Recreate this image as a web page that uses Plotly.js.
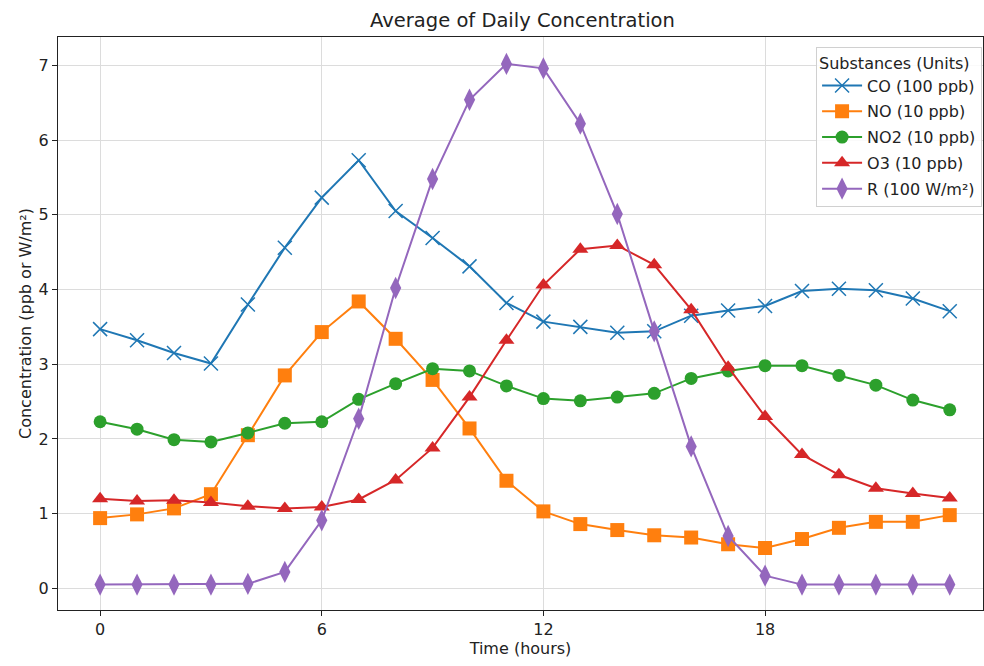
<!DOCTYPE html>
<html>
<head>
<meta charset="utf-8">
<script src="https://cdn.plot.ly/plotly-3.0.1.min.js"></script>
<style>html,body{margin:0;padding:0;background:#fff;}#chart{width:984px;height:666px;}</style>
</head>
<body>
<div id="chart"></div>
<script>
const hours = [0,1,2,3,4,5,6,7,8,9,10,11,12,13,14,15,16,17,18,19,20,21,22,23];
const coValues  = [3.47,3.32,3.15,3.01,3.80,4.56,5.23,5.73,5.05,4.69,4.31,3.82,3.57,3.50,3.42,3.44,3.65,3.72,3.78,3.98,4.01,3.99,3.88,3.71];
const noValues  = [0.94,0.99,1.07,1.26,2.05,2.85,3.43,3.84,3.34,2.79,2.14,1.44,1.03,0.86,0.78,0.71,0.68,0.59,0.54,0.66,0.81,0.89,0.89,0.98];
const no2Values = [2.23,2.13,1.99,1.96,2.08,2.21,2.23,2.53,2.74,2.94,2.91,2.71,2.54,2.51,2.56,2.61,2.81,2.91,2.98,2.98,2.85,2.72,2.52,2.39];
const o3Values  = [1.20,1.17,1.18,1.15,1.10,1.07,1.09,1.19,1.45,1.88,2.56,3.32,4.06,4.54,4.59,4.33,3.73,2.96,2.30,1.79,1.52,1.34,1.27,1.21];
const rValues   = [0.05,0.05,0.05,0.05,0.06,0.22,0.91,2.27,4.02,5.48,6.54,7.02,6.96,6.22,5.01,3.44,1.90,0.70,0.17,0.05,0.05,0.05,0.05,0.05];
const seriesNames = ["CO (100 ppb)","NO (10 ppb)","NO2 (10 ppb)","O3 (10 ppb)","R (100 W/m²)"];
const xTicks = [0,6,12,18];

const colors = ["#1f77b4","#ff7f0e","#2ca02c","#d62728","#9467bd"];
const symbols = ["x-thin-open","square","circle","triangle-up","diamond-tall"];
const sizes = [14,14,13,14,16];
const allValues = [coValues,noValues,no2Values,o3Values,rValues];

const traces = allValues.map((vals,i)=>({
  x: hours, y: vals, name: seriesNames[i], type:'scatter', mode:'lines+markers',
  legendgroup:'g'+i,
  line:{color:colors[i], width:2},
  marker:{symbol:symbols[i], size:sizes[i], color:colors[i], line:{color:colors[i], width: i===0?1.5:0}}
}));

const layout = {
  width:984, height:666,
  margin:{l:58, r:1, t:37, b:56},
  paper_bgcolor:'#fff', plot_bgcolor:'#fff',
  font:{family:'DejaVu Sans', size:16, color:'#222'},
  title:{text:'Average of Daily Concentration', x:0.531, xanchor:'center', y:0.969, yanchor:'middle', font:{size:19.5, color:'#222'}},
  xaxis:{range:[-1.14,23.9], tickvals:xTicks, ticks:'outside', ticklen:5, tickcolor:'#222',
    tickfont:{size:16},
    showgrid:true, gridcolor:'#dcdcdc', gridwidth:1, zeroline:false,
    showline:true, linecolor:'#222', linewidth:1, mirror:true,
    title:{text:'Time (hours)', font:{size:16}, standoff:4}},
  yaxis:{range:[-0.29,7.38], tickvals:[0,1,2,3,4,5,6,7], ticks:'outside', ticklen:5, tickcolor:'#222',
    tickfont:{size:16},
    showgrid:true, gridcolor:'#dcdcdc', gridwidth:1, zeroline:false,
    showline:true, linecolor:'#222', linewidth:1, mirror:true,
    title:{text:'Concentration (ppb or W/m²)', font:{size:16}, standoff:3}},
  legend:{x:0.999, xanchor:'right', y:0.983, yanchor:'top', bgcolor:'rgba(255,255,255,0.85)',
    bordercolor:'#d0d0d0', borderwidth:1, font:{size:16}, itemwidth:40,
    traceorder:'grouped', tracegroupgap:2,
    title:{text:'Substances (Units)', side:'top', font:{size:16}}},
  showlegend:true
};
Plotly.newPlot('chart', traces, layout, {displayModeBar:false, staticPlot:true});
</script>
</body>
</html>
